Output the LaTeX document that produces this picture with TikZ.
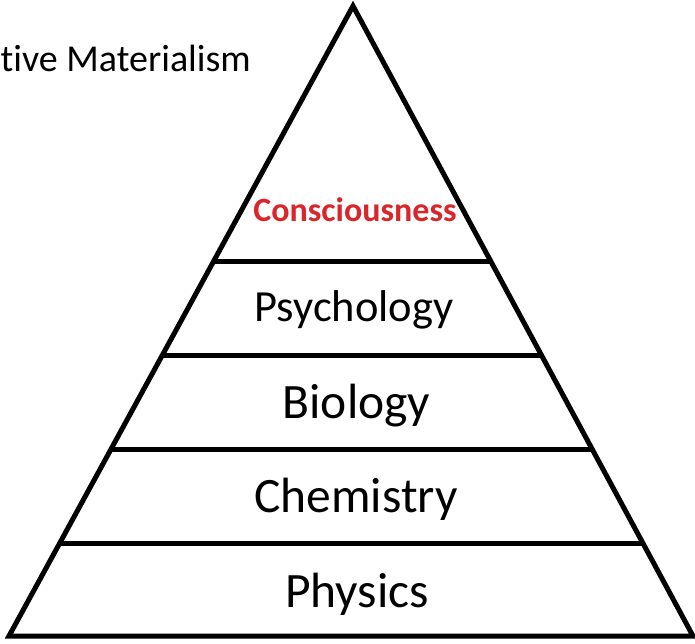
\documentclass[tikz,border=0pt]{standalone}
\usepackage{fontspec}
\setmainfont{Carlito}[Ligatures=NoCommon]
\usetikzlibrary{calc}
\definecolor{conred}{RGB}{218,37,43}
\tikzset{
  edge/.style={line width=5pt, line join=miter},
  layer/.style={anchor=base, inner sep=0pt, text=black},
}
\begin{document}
\begin{tikzpicture}[x=1pt,y=-1pt]
\useasboundingbox (0,0) rectangle (695,644);
\coordinate (apex) at (353,6);
\coordinate (bl) at (9,636);
\coordinate (br) at (693,636);
\draw[edge] (bl) -- (apex) -- (br) -- cycle;
\foreach \t/\n in {0.4063/a,0.5540/b,0.7032/c,0.8524/d}{
  \coordinate (l\n) at ($(apex)!\t!(bl)$);
  \coordinate (r\n) at ($(apex)!\t!(br)$);
  \draw[edge] (l\n) -- (r\n);
}
\node[layer, font=\bfseries\fontsize{34}{34}\selectfont, text=conred] (cons) at (355,222) {Consciousness};
\node[layer, font=\fontsize{44.5}{44.5}\selectfont] (psy) at (354,321) {Psychology};
\node[layer, font=\fontsize{49.5}{49.5}\selectfont] (bio) at (356.5,418) {Biology};
\node[layer, font=\fontsize{49.5}{49.5}\selectfont] (chem) at (356,512) {Chemistry};
\node[layer, font=\fontsize{49.5}{49.5}\selectfont] (phys) at (357,607) {Physics};
\node[anchor=base west, inner sep=0pt, font=\fontsize{38}{38}\selectfont] (title) at (0.5,72) {tive Materialism};
\end{tikzpicture}
\end{document}
